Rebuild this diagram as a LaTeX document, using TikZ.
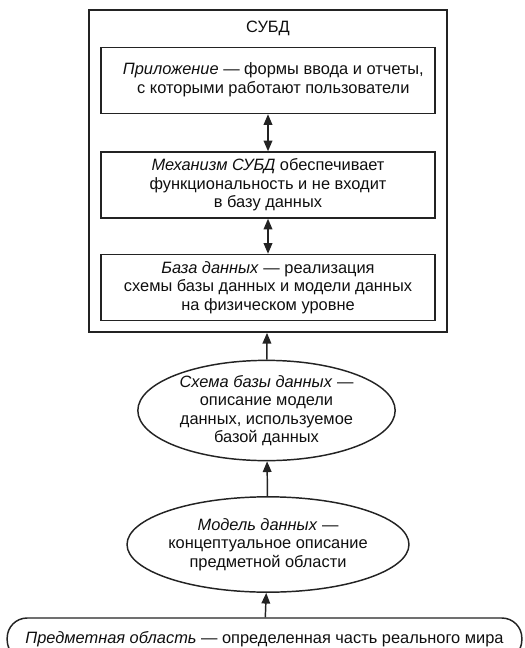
\documentclass[tikz,border=0pt]{standalone}
\usepackage{fontspec}
\setmainfont{Liberation Sans}
\usetikzlibrary{arrows.meta,shapes.geometric}
\definecolor{LineClr}{RGB}{35,35,35}
\definecolor{TextClr}{RGB}{15,15,15}

\begin{document}
\begin{tikzpicture}[x=0.75pt,y=-0.75pt,
  every node/.style={font=\fontsize{12.3}{13.9}\selectfont,text=TextClr},
  box/.style={draw=LineClr,line width=1.1pt,rectangle,align=center,
    minimum width=250.5pt,minimum height=49.5pt,inner sep=0pt},
  oval/.style={draw=LineClr,line width=1.1pt,ellipse,align=center,
    minimum width=193pt,minimum height=71.5pt,inner sep=0pt},
  link/.style={draw=LineClr,line width=1.1pt,-{Triangle[length=8pt,width=6.5pt]}},
  twolink/.style={link,{Triangle[length=8pt,width=6.5pt]}-{Triangle[length=8pt,width=6.5pt]}}]
\useasboundingbox (0,0) rectangle (524,648);

\node[draw=LineClr,line width=1.3pt,minimum width=268.5pt,minimum height=241.5pt,inner sep=0pt]
  (dbms) at (268,171) {};
\node (title) at (268,28) {СУБД};

\node[box] (app) at (268,80.5)
  {\begin{tabular}{@{\hskip8pt}c@{}}\textit{Приложение} — формы ввода и отчеты,\\с которыми работают пользователи\end{tabular}};
\node[box] (engine) at (268,185)
  {\textit{Механизм СУБД} обеспечивает\\функциональность и не входит\\в базу данных};
\node[box] (db) at (268,287.5)
  {\textit{База данных} — реализация\\схемы базы данных и модели данных\\на физическом уровне};

\node[oval] (schema) at (266.5,410.5)
  {\textit{Схема базы данных} —\\описание модели\\данных, используемое\\базой данных};
\node[oval] (model) at (268,544.5)
  {\textit{Модель данных} —\\концептуальное описание\\предметной области};

\node[draw=LineClr,line width=1.1pt,rounded corners=15pt,minimum width=386pt,
  minimum height=31.5pt,inner sep=0pt] (domain) at (264.5,639)
  {\textit{Предметная область} — определенная часть реального мира};

\draw[twolink] (app) -- (engine);
\draw[twolink] (engine) -- (db);
\draw[link] (schema) -- (dbms);
\draw[link] (model) -- (schema);
\draw[link] (domain) -- (model);

\end{tikzpicture}
\end{document}
